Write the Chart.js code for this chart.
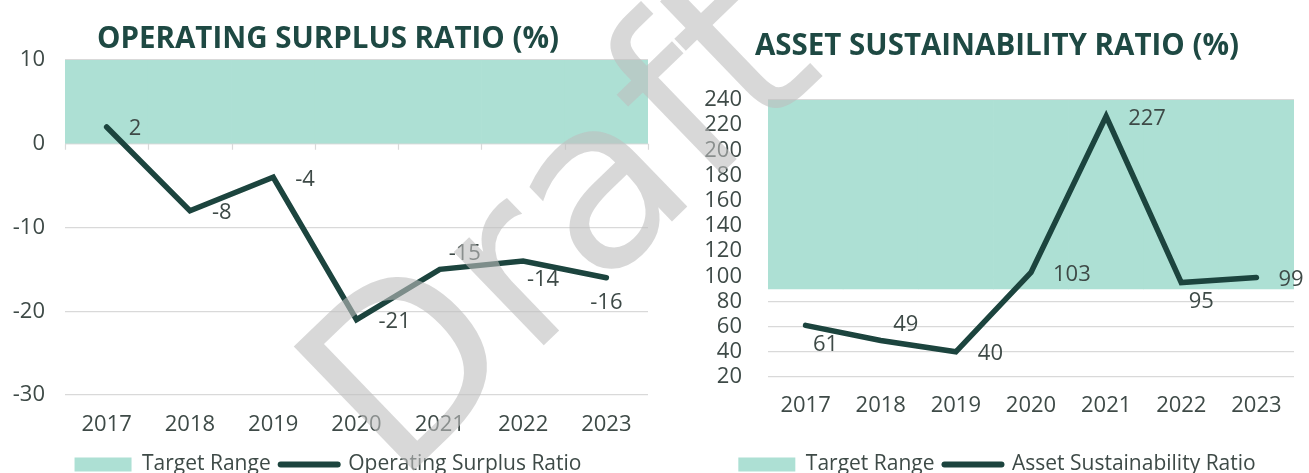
<!DOCTYPE html>
<html>
<head>
<meta charset="utf-8">
<script src="https://cdn.jsdelivr.net/npm/chart.js@4.4.1/dist/chart.umd.min.js"></script>
<style>
  html, body { margin: 0; padding: 0; background: #fff; overflow: hidden; }
  #page { position: relative; width: 1309px; height: 473px; overflow: hidden; }
  .box { position: absolute; top: 0; height: 485px; }
  #osr { left: 0; width: 655px; }
  #asr { left: 700px; width: 609px; }
  #draft { position: absolute; left: 0; top: 0; pointer-events: none; }
</style>
</head>
<body>
<div id="page">
  <div class="box" id="osr"><canvas id="osrChart"></canvas></div>
  <div class="box" id="asr"><canvas id="asrChart"></canvas></div>
  <svg id="draft" width="1309" height="473">
    <text x="397" y="487" transform="rotate(-44 397 487)" font-family="DejaVu Sans, sans-serif"
          font-size="237" fill="#bebebe" fill-opacity="0.6">Draft</text>
  </svg>
</div>
<script>
// data
const years = ['2017', '2018', '2019', '2020', '2021', '2022', '2023'];

const operatingSurplus = [2, -8, -4, -21, -15, -14, -16];
const operatingTarget = [0, 10];
const operatingTicks = [10, 0, -10, -20, -30];

const assetSustainability = [61, 49, 40, 103, 227, 95, 99];
const assetTarget = [90, 240];
const assetTicks = [240, 220, 200, 180, 160, 140, 120, 100, 80, 60, 40, 20];

// where each value label sits next to its point
const operatingLabelPos = ['right', 'right', 'right', 'right', 'aboveRight', 'belowRight', 'below'];
const assetLabelPos = ['belowRight', 'aboveRight', 'right', 'right', 'right', 'belowRight', 'right'];

const bandColor = '#ade0d4';
const lineColor = '#1c443e';
const titleColor = '#1e4943';
const textColor = '#3e4a47';
const gridColor = '#d9d9d9';
const FONT = '"Open Sans", sans-serif';

const labelOffsets = {
  right: { dx: 22, dy: 2, align: 'left' },
  aboveRight: { dx: 25, dy: -16, align: 'center' },
  belowRight: { dx: 20, dy: 19, align: 'center' },
  below: { dx: 0, dy: 25, align: 'center' }
};

// value labels for the line series
const pointLabels = {
  id: 'pointLabels',
  afterDatasetsDraw(chart, args, opts) {
    const ds = chart.data.datasets[1];
    const meta = chart.getDatasetMeta(1);
    const ctx = chart.ctx;
    ctx.save();
    ctx.font = '22px ' + FONT;
    ctx.fillStyle = textColor;
    ctx.textBaseline = 'middle';
    meta.data.forEach((pt, i) => {
      const o = labelOffsets[opts.positions[i]];
      ctx.textAlign = o.align;
      ctx.fillText(String(ds.data[i]), pt.x + o.dx, pt.y + o.dy);
    });
    ctx.restore();
  }
};

// small category tick marks hanging from the zero line (excel axis crossing)
const zeroTicks = {
  id: 'zeroTicks',
  beforeDatasetsDraw(chart, args, opts) {
    if (!opts.show) return;
    const x = chart.scales.x, y = chart.scales.y;
    const y0 = y.getPixelForValue(0);
    const step = (x.right - x.left) / years.length;
    const ctx = chart.ctx;
    ctx.save();
    ctx.strokeStyle = gridColor;
    ctx.lineWidth = 1.2;
    ctx.beginPath();
    ctx.moveTo(x.left, y0);
    ctx.lineTo(x.right, y0);
    for (let i = 0; i <= years.length; i++) {
      const px = Math.round(x.left + i * step) + 0.5;
      ctx.moveTo(px, y0);
      ctx.lineTo(px, y0 + 6);
    }
    ctx.stroke();
    ctx.restore();
  }
};

function buildChart(id, cfg) {
  return new Chart(document.getElementById(id), {
    type: 'bar',
    data: {
      labels: years,
      datasets: [
        {
          type: 'bar',
          label: 'Target Range',
          data: years.map(() => cfg.target),
          backgroundColor: bandColor,
          borderWidth: 0,
          barPercentage: 1,
          categoryPercentage: 1,
          order: 2
        },
        {
          type: 'line',
          label: cfg.label,
          data: cfg.values,
          borderColor: lineColor,
          backgroundColor: lineColor,
          borderWidth: 5.5,
          borderCapStyle: 'round',
          pointRadius: 0,
          pointHoverRadius: 0,
          order: 1
        }
      ]
    },
    plugins: [zeroTicks, pointLabels],
    options: {
      responsive: true,
      maintainAspectRatio: false,
      animation: false,
      layout: { padding: cfg.padding },
      scales: {
        x: {
          grid: { display: false },
          border: { display: false },
          ticks: { color: textColor, padding: cfg.xPad, font: { family: FONT, size: 22, lineHeight: 1.2 } },
          afterFit: s => { s.height = cfg.xHeight; }
        },
        y: {
          min: cfg.ticks[cfg.ticks.length - 1],
          max: cfg.ticks[0],
          grid: { color: gridColor, lineWidth: 1.2, drawTicks: false },
          border: { display: false },
          ticks: { color: textColor, padding: cfg.yPad, autoSkip: false, font: { family: FONT, size: 22, lineHeight: 1 } },
          afterBuildTicks: s => { s.ticks = cfg.ticks.slice().reverse().map(v => ({ value: v })); },
          afterFit: s => { s.width = cfg.yWidth; }
        }
      },
      plugins: {
        tooltip: { enabled: false },
        pointLabels: { positions: cfg.labelPos },
        zeroTicks: { show: cfg.zeroTicks },
        title: {
          display: true,
          text: cfg.title,
          color: titleColor,
          font: { family: FONT, size: 29.5, weight: 'bold', lineHeight: 1.2 },
          padding: cfg.titlePad
        },
        legend: {
          position: 'bottom',
          reverse: true,
          labels: {
            color: textColor,
            font: { family: FONT, size: 21 },
            usePointStyle: true,
            pointStyleWidth: 57,
            boxHeight: 14,
            padding: 10,
            generateLabels: chart => Chart.defaults.plugins.legend.labels.generateLabels(chart).map(item => {
              if (item.datasetIndex === 0) {
                item.pointStyle = 'rect';
                item.fillStyle = bandColor;
                item.lineWidth = 0;
              } else {
                item.pointStyle = 'line';
                item.strokeStyle = lineColor;
                item.lineWidth = 6;
                item.lineCap = 'round';
              }
              return item;
            })
          }
        }
      }
    }
  });
}

buildChart('osrChart', {
  title: 'OPERATING SURPLUS RATIO (%)',
  label: 'Operating Surplus Ratio',
  values: operatingSurplus,
  target: operatingTarget,
  ticks: operatingTicks,
  labelPos: operatingLabelPos,
  zeroTicks: true,
  padding: { left: 8, right: 7, top: 0, bottom: 0 },
  titlePad: { top: 22.3, bottom: 2.3 },
  yWidth: 57,
  yPad: 20,
  xPad: 9,
  xHeight: 49
});

buildChart('asrChart', {
  title: 'ASSET SUSTAINABILITY RATIO (%)',
  label: 'Asset Sustainability Ratio',
  values: assetSustainability,
  target: assetTarget,
  ticks: assetTicks,
  labelPos: assetLabelPos,
  zeroTicks: false,
  padding: { left: 0, right: 15, top: 0, bottom: 0 },
  titlePad: { top: 29.3, bottom: 35.3 },
  yWidth: 68,
  yPad: 26,
  xPad: 8,
  xHeight: 67
});
</script>
</body>
</html>
